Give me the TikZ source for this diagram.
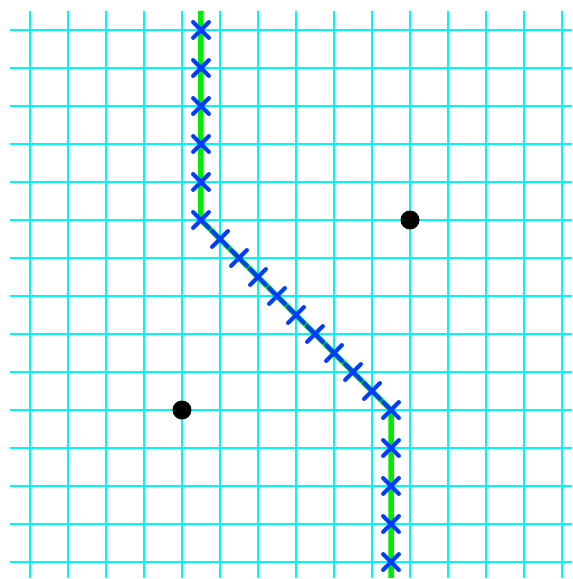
\documentclass[tikz,border=0pt]{standalone}
\usepackage{tikz}
\usetikzlibrary{shapes.misc, calc}

\definecolor{gridcyan}{RGB}{0,245,245}
\definecolor{pathgreen}{RGB}{0,235,0}
\definecolor{markblue}{RGB}{0,60,255}

\begin{document}
\begin{tikzpicture}[
        x=38pt, y=-38pt,
        gridline/.style={
            gridcyan,
            line width=2.8pt
        },
        route/.style={
            pathgreen,
            line width=5.5pt
        },
        sample/.style={
            cross out,
            draw=markblue,
            line width=4.2pt,
            line cap=round,
            minimum size=11.5pt,
            inner sep=0pt
        },
        site/.style={
            circle,
            fill=black,
            minimum size=19pt,
            inner sep=0pt
        }
    ]
    \useasboundingbox (-0.789,-0.789) rectangle (14.289,14.447);

    % Grid
    \foreach \i in {0,...,14} {
        \draw[gridline] (\i,-0.5) -- (\i,14.42);
        \draw[gridline] (-0.53,\i) -- (14.26,\i);
    }

    % Route
    \coordinate (start) at (4.5,-0.5);
    \coordinate (bendA) at (4.5,5);
    \coordinate (bendB) at (9.5,10);
    \coordinate (finish) at (9.5,14.42);
    \draw[route] (start) -- (bendA) -- (bendB) -- (finish);

    % Samples along the route
    \foreach \j in {0,...,5}
        \node[sample] (up\j) at (4.5,\j) {};
    \foreach \k in {1,...,10}
        \node[sample] (diag\k) at ($(bendA)!\k/10!(bendB)$) {};
    \foreach \j in {11,...,14}
        \node[sample] (down\j) at (9.5,\j) {};

    % Sites
    \node[site] (siteA) at (10,5) {};
    \node[site] (siteB) at (4,10) {};

\end{tikzpicture}
\end{document}
